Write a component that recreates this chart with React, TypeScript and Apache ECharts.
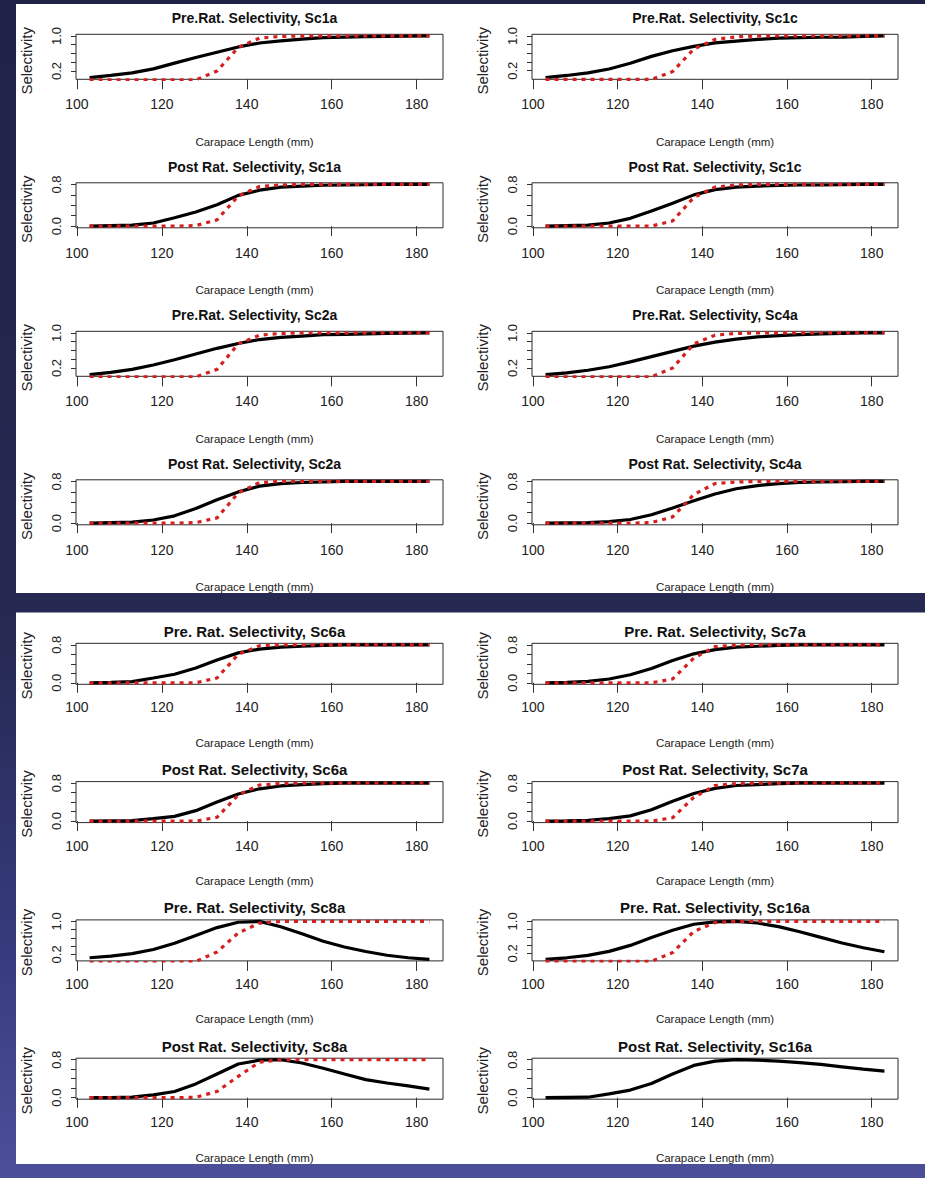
import { useEffect, useRef } from "react";
import * as echarts from "echarts";

const W = 925;
const H = 1178;
const FONT = '"Liberation Sans", Arial, Helvetica, sans-serif';

// Carapace length classes (mm)
const LENGTHS = [103, 108, 113, 118, 123, 128, 133, 138, 143, 148, 153, 158, 163, 168, 173, 178, 183];
const X_TICKS = [100, 120, 140, 160, 180];
const Y_STEPS = [0, 0.2, 0.4, 0.6, 0.8, 1.0];

// ---- first block ----
const PRE_SC1A_MODEL = [0.05, 0.1, 0.16, 0.25, 0.38, 0.51, 0.63, 0.75, 0.84, 0.89, 0.93, 0.96, 0.975, 0.985, 0.99, 0.995, 1.0];
const PRE_SC1A_REF = [0, 0, 0, 0, 0, 0, 0.2, 0.74, 0.95, 0.99, 1, 1, 1, 1, 1, 1, 1];
const PRE_SC1C_MODEL = [0.04, 0.09, 0.15, 0.24, 0.37, 0.53, 0.66, 0.76, 0.84, 0.88, 0.92, 0.95, 0.96, 0.97, 0.975, 0.99, 1.0];
const PRE_SC1C_REF = [0, 0, 0, 0, 0, 0, 0.18, 0.7, 0.92, 0.98, 1, 1, 1, 1, 1, 1, 1];
const POST_SC1A_MODEL = [0.0, 0.01, 0.02, 0.06, 0.16, 0.27, 0.41, 0.59, 0.69, 0.75, 0.77, 0.785, 0.79, 0.795, 0.8, 0.8, 0.8];
const POST_SC1A_REF = [0, 0, 0, 0, 0, 0.01, 0.12, 0.58, 0.76, 0.79, 0.8, 0.8, 0.8, 0.8, 0.8, 0.8, 0.8];
const POST_SC1C_MODEL = [0.0, 0.01, 0.02, 0.06, 0.15, 0.29, 0.44, 0.6, 0.7, 0.75, 0.77, 0.78, 0.79, 0.79, 0.795, 0.8, 0.8];
const POST_SC1C_REF = [0, 0, 0, 0, 0, 0, 0.1, 0.55, 0.75, 0.79, 0.8, 0.8, 0.8, 0.8, 0.8, 0.8, 0.8];
const PRE_SC2A_MODEL = [0.05, 0.1, 0.17, 0.27, 0.39, 0.52, 0.65, 0.76, 0.85, 0.9, 0.93, 0.96, 0.97, 0.98, 0.99, 0.995, 1.0];
const PRE_SC2A_REF = [0, 0, 0, 0, 0, 0, 0.17, 0.75, 0.95, 0.99, 1, 1, 1, 1, 1, 1, 1];
const PRE_SC4A_MODEL = [0.05, 0.09, 0.15, 0.23, 0.34, 0.46, 0.58, 0.7, 0.79, 0.86, 0.91, 0.94, 0.96, 0.98, 0.99, 1.0, 1.0];
const PRE_SC4A_REF = [0, 0, 0, 0, 0, 0, 0.2, 0.75, 0.95, 0.99, 1, 1, 1, 1, 1, 1, 1];
const POST_SC2A_MODEL = [0.0, 0.01, 0.02, 0.06, 0.14, 0.28, 0.45, 0.6, 0.71, 0.76, 0.78, 0.79, 0.8, 0.8, 0.8, 0.8, 0.8];
const POST_SC2A_REF = [0, 0, 0, 0, 0, 0.01, 0.1, 0.58, 0.78, 0.8, 0.8, 0.8, 0.8, 0.8, 0.8, 0.8, 0.8];
const POST_SC4A_MODEL = [0.0, 0.005, 0.01, 0.03, 0.07, 0.16, 0.29, 0.43, 0.56, 0.66, 0.72, 0.76, 0.78, 0.79, 0.795, 0.8, 0.8];
const POST_SC4A_REF = [0, 0, 0, 0, 0, 0.01, 0.12, 0.55, 0.76, 0.79, 0.8, 0.8, 0.8, 0.8, 0.8, 0.8, 0.8];

// ---- second block ----
const PRE_SC6A_MODEL = [0.0, 0.01, 0.025, 0.1, 0.18, 0.31, 0.48, 0.63, 0.71, 0.75, 0.77, 0.79, 0.8, 0.8, 0.8, 0.8, 0.8];
const PRE_SC6A_REF = [0, 0, 0, 0, 0, 0, 0.1, 0.6, 0.78, 0.8, 0.8, 0.8, 0.8, 0.8, 0.8, 0.8, 0.8];
const PRE_SC7A_MODEL = [0.0, 0.01, 0.03, 0.08, 0.17, 0.3, 0.47, 0.61, 0.7, 0.75, 0.77, 0.79, 0.8, 0.8, 0.8, 0.8, 0.8];
const PRE_SC7A_REF = [0, 0, 0, 0, 0, 0, 0.08, 0.52, 0.76, 0.79, 0.8, 0.8, 0.8, 0.8, 0.8, 0.8, 0.8];
const POST_SC6A_MODEL = [0.0, 0.005, 0.01, 0.05, 0.1, 0.22, 0.4, 0.57, 0.68, 0.74, 0.77, 0.79, 0.8, 0.8, 0.8, 0.8, 0.8];
const POST_SC6A_REF = [0, 0, 0, 0, 0, 0, 0.08, 0.55, 0.76, 0.79, 0.8, 0.8, 0.8, 0.8, 0.8, 0.8, 0.8];
const POST_SC7A_MODEL = [0.0, 0.005, 0.015, 0.05, 0.11, 0.24, 0.42, 0.58, 0.69, 0.75, 0.77, 0.79, 0.8, 0.8, 0.8, 0.8, 0.8];
const POST_SC7A_REF = [0, 0, 0, 0, 0, 0, 0.07, 0.5, 0.75, 0.79, 0.8, 0.8, 0.8, 0.8, 0.8, 0.8, 0.8];
const PRE_SC8A_MODEL = [0.12, 0.16, 0.22, 0.32, 0.47, 0.66, 0.85, 0.98, 1.0, 0.87, 0.7, 0.52, 0.38, 0.27, 0.18, 0.12, 0.08];
const PRE_SC8A_REF = [0, 0, 0, 0, 0, 0.03, 0.26, 0.72, 0.96, 1.0, 1, 1, 1, 1, 1, 1, 1];
const PRE_SC16A_MODEL = [0.05, 0.09, 0.15, 0.25, 0.4, 0.6, 0.78, 0.93, 0.99, 1.0, 0.96, 0.87, 0.74, 0.6, 0.46, 0.34, 0.24];
const PRE_SC16A_REF = [0, 0, 0, 0, 0, 0, 0.22, 0.75, 0.97, 1.0, 1, 1, 1, 1, 1, 1, 1];
const POST_SC8A_MODEL = [0.0, 0.003, 0.01, 0.06, 0.13, 0.29, 0.5, 0.71, 0.79, 0.8, 0.73, 0.62, 0.5, 0.38, 0.31, 0.25, 0.18];
const POST_SC8A_REF = [0, 0, 0, 0, 0, 0.01, 0.13, 0.45, 0.75, 0.8, 0.8, 0.8, 0.8, 0.8, 0.8, 0.8, 0.8];
const POST_SC16A_MODEL = [0.0, 0.005, 0.01, 0.08, 0.16, 0.3, 0.5, 0.68, 0.77, 0.8, 0.79, 0.77, 0.74, 0.7, 0.65, 0.6, 0.56];

type Plot = { title: string; model: number[]; ref: number[] | null };

const FIRST_PLOTS: Plot[] = [
  { title: "Pre.Rat. Selectivity, Sc1a", model: PRE_SC1A_MODEL, ref: PRE_SC1A_REF },
  { title: "Pre.Rat. Selectivity, Sc1c", model: PRE_SC1C_MODEL, ref: PRE_SC1C_REF },
  { title: "Post Rat. Selectivity, Sc1a", model: POST_SC1A_MODEL, ref: POST_SC1A_REF },
  { title: "Post Rat. Selectivity, Sc1c", model: POST_SC1C_MODEL, ref: POST_SC1C_REF },
  { title: "Pre.Rat. Selectivity, Sc2a", model: PRE_SC2A_MODEL, ref: PRE_SC2A_REF },
  { title: "Pre.Rat. Selectivity, Sc4a", model: PRE_SC4A_MODEL, ref: PRE_SC4A_REF },
  { title: "Post Rat. Selectivity, Sc2a", model: POST_SC2A_MODEL, ref: POST_SC2A_REF },
  { title: "Post Rat. Selectivity, Sc4a", model: POST_SC4A_MODEL, ref: POST_SC4A_REF },
];

const SECOND_PLOTS: Plot[] = [
  { title: "Pre. Rat. Selectivity, Sc6a", model: PRE_SC6A_MODEL, ref: PRE_SC6A_REF },
  { title: "Pre. Rat. Selectivity, Sc7a", model: PRE_SC7A_MODEL, ref: PRE_SC7A_REF },
  { title: "Post Rat. Selectivity, Sc6a", model: POST_SC6A_MODEL, ref: POST_SC6A_REF },
  { title: "Post Rat. Selectivity, Sc7a", model: POST_SC7A_MODEL, ref: POST_SC7A_REF },
  { title: "Pre. Rat. Selectivity, Sc8a", model: PRE_SC8A_MODEL, ref: PRE_SC8A_REF },
  { title: "Pre. Rat. Selectivity, Sc16a", model: PRE_SC16A_MODEL, ref: PRE_SC16A_REF },
  { title: "Post Rat. Selectivity, Sc8a", model: POST_SC8A_MODEL, ref: POST_SC8A_REF },
  { title: "Post Rat. Selectivity, Sc16a", model: POST_SC16A_MODEL, ref: null },
];

// page layout
const COLUMNS = [
  { left: 76, width: 367, textShift: -5 },
  { left: 532, width: 366, textShift: 0 },
];

const BLOCKS = [
  {
    plots: FIRST_PLOTS,
    sheet: { x: 16, y: 4, w: W - 16, h: 589 },
    firstTop: 34.3,
    step: 148.5,
    height: 45,
    titleOff: -16,
    titleSize: 14,
    tickMargin: 18,
    nameOff: 62.5,
    ylabOff: 4,
  },
  {
    plots: SECOND_PLOTS,
    sheet: { x: 16, y: 612.5, w: W - 16, h: 551.5 },
    firstTop: 643.3,
    step: 138.3,
    height: 41,
    titleOff: -12,
    titleSize: 15,
    tickMargin: 16,
    nameOff: 58.5,
    ylabOff: 2,
  },
];

function buildOption() {
  const grids: any[] = [];
  const xAxes: any[] = [];
  const yAxes: any[] = [];
  const series: any[] = [];
  const graphics: any[] = [];

  graphics.push({
    type: "rect",
    z: -20,
    silent: true,
    shape: { x: 0, y: 0, width: W, height: H },
    style: {
      fill: {
        type: "linear",
        x: 0,
        y: 0,
        x2: 0,
        y2: 1,
        colorStops: [
          { offset: 0, color: "#1f2347" },
          { offset: 0.55, color: "#262a53" },
          { offset: 0.8, color: "#363a7c" },
          { offset: 1, color: "#4c509a" },
        ],
      },
    },
  });

  const xSpan = LENGTHS[LENGTHS.length - 1] - LENGTHS[0];
  const xMin = LENGTHS[0] - 0.04 * xSpan;
  const xMax = LENGTHS[LENGTHS.length - 1] + 0.04 * xSpan;

  let gi = 0;
  BLOCKS.forEach((b) => {
    graphics.push({
      type: "rect",
      z: -10,
      silent: true,
      shape: { x: b.sheet.x, y: b.sheet.y, width: b.sheet.w, height: b.sheet.h },
      style: { fill: "#ffffff" },
    });

    b.plots.forEach((p, k) => {
      const row = Math.floor(k / 2);
      const col = COLUMNS[k % 2];
      const top = b.firstTop + row * b.step;
      const bottom = top + b.height;
      const cx = col.left + col.width / 2 + col.textShift;

      grids.push({
        left: col.left,
        top,
        width: col.width,
        height: b.height,
        show: true,
        borderColor: "#2a2a2a",
        borderWidth: 1,
        backgroundColor: "transparent",
        containLabel: false,
        outerBoundsMode: "none",
      });

      const lo = Math.min(...p.model);
      const hi = Math.max(...p.model);
      const pad = (hi - lo) * 0.04;
      const yMin = lo - pad;
      const yMax = hi + pad;
      const ticks = Y_STEPS.filter((t) => t >= yMin - 1e-9 && t <= yMax + 1e-9);

      xAxes.push({
        type: "value",
        gridIndex: gi,
        min: xMin,
        max: xMax,
        axisLine: { show: false },
        splitLine: { show: false },
        axisTick: { show: true, length: 10, customValues: X_TICKS, lineStyle: { color: "#333", width: 1 } },
        axisLabel: {
          customValues: X_TICKS,
          margin: b.tickMargin,
          fontSize: 14,
          color: "#222",
          fontFamily: FONT,
          formatter: (v: number) => String(Math.round(v)),
        },
      });

      yAxes.push({
        type: "value",
        gridIndex: gi,
        min: yMin,
        max: yMax,
        axisLine: { show: false },
        splitLine: { show: false },
        axisTick: { show: true, length: 5, customValues: ticks, lineStyle: { color: "#333", width: 1 } },
        axisLabel: {
          customValues: [ticks[0], ticks[ticks.length - 1]],
          rotate: 90,
          margin: 13,
          fontSize: 13,
          color: "#222",
          fontFamily: FONT,
          formatter: (v: number) => v.toFixed(1),
        },
      });

      series.push({
        type: "line",
        xAxisIndex: gi,
        yAxisIndex: gi,
        data: LENGTHS.map((x, i) => [x, p.model[i]]),
        showSymbol: false,
        symbol: "none",
        lineStyle: { color: "#000000", width: 3.2 },
        z: 3,
      });

      if (p.ref) {
        series.push({
          type: "line",
          xAxisIndex: gi,
          yAxisIndex: gi,
          data: LENGTHS.map((x, i) => [x, p.ref![i]]),
          showSymbol: false,
          symbol: "none",
          lineStyle: { color: "#d42020", width: 3.2, type: [4, 5], cap: "butt" },
          z: 4,
        });
      }

      graphics.push({
        type: "text",
        z: 10,
        silent: true,
        x: cx,
        y: top + b.titleOff,
        style: {
          text: p.title,
          fill: "#111",
          font: `bold ${b.titleSize}px ${FONT}`,
          align: "center",
          verticalAlign: "middle",
          textAlign: "center",
          textVerticalAlign: "middle",
        },
      });

      graphics.push({
        type: "text",
        z: 10,
        silent: true,
        x: cx,
        y: bottom + b.nameOff,
        style: {
          text: "Carapace Length (mm)",
          fill: "#222",
          font: `11.5px ${FONT}`,
          align: "center",
          verticalAlign: "middle",
          textAlign: "center",
          textVerticalAlign: "middle",
        },
      });

      graphics.push({
        type: "text",
        z: 10,
        silent: true,
        x: col.left - 50,
        y: top + b.height / 2 + b.ylabOff,
        rotation: Math.PI / 2,
        style: {
          text: "Selectivity",
          fill: "#222",
          font: `15px ${FONT}`,
          align: "center",
          verticalAlign: "middle",
          textAlign: "center",
          textVerticalAlign: "middle",
        },
      });

      gi++;
    });
  });

  return {
    animation: false,
    grid: grids,
    xAxis: xAxes,
    yAxis: yAxes,
    series,
    graphic: { elements: graphics },
  };
}

export default function App() {
  const ref = useRef<HTMLDivElement>(null);

  useEffect(() => {
    if (!ref.current) return;
    const chart = echarts.init(ref.current, null, { renderer: "svg", width: W, height: H });
    chart.setOption(buildOption() as any);
    return () => chart.dispose();
  }, []);

  return <div ref={ref} style={{ position: "absolute", left: 0, top: 0, width: W, height: H }} />;
}
